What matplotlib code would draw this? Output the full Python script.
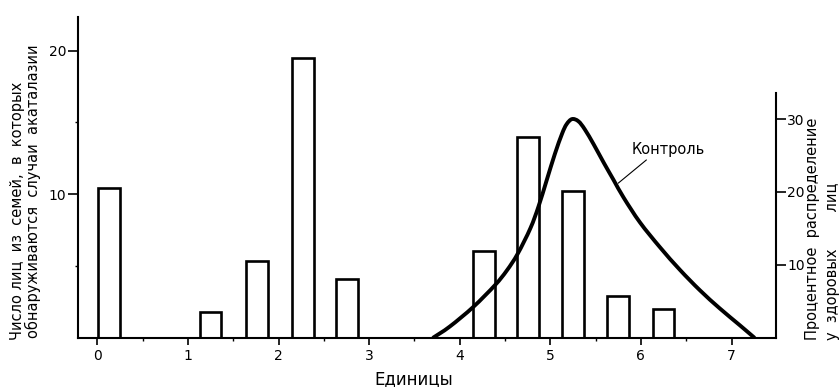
import matplotlib
matplotlib.use("Agg")
import matplotlib.pyplot as plt
from matplotlib.path import Path
from matplotlib.patches import PathPatch

plt.rcParams['font.family'] = ['DejaVu Sans']

# ---- data ----
bar_x = [0.13, 1.25, 1.76, 2.27, 2.76, 4.27, 4.75, 5.25, 5.75, 6.25]
bar_counts = [10.4, 1.75, 5.3, 19.5, 4.1, 6.0, 14.0, 10.2, 2.9, 2.0]

ctrl_x = [3.71, 3.89, 4.15, 4.39, 4.52, 4.64, 4.78, 4.87, 4.96, 5.05, 5.13,
          5.18, 5.24, 5.31, 5.38, 5.48, 5.59, 5.70, 5.81, 5.99, 6.21, 6.43,
          6.65, 6.87, 7.09, 7.25]
ctrl_pct = [0.0, 1.5, 4.2, 7.2, 9.2, 11.5, 15.0, 18.0, 21.6, 25.2, 28.0,
            29.3, 30.0, 29.7, 28.6, 26.5, 24.0, 21.6, 19.2, 15.8, 12.4, 9.3,
            6.5, 4.0, 1.7, 0.0]

x_ticks = [0, 1, 2, 3, 4, 5, 6, 7]
x_minor = [0.5, 1.5, 2.5, 3.5, 4.5, 5.5, 6.5]
left_ticks = [10, 20]
left_minor = [5, 15]
right_ticks = [10, 20, 30]


def smooth_path(xs, ys):
    """Catmull-Rom curve through the read points, as cubic Bezier segments."""
    pts = list(zip(xs, ys))
    verts = [pts[0]]
    codes = [Path.MOVETO]
    n = len(pts)
    for i in range(n - 1):
        p0 = pts[i - 1] if i > 0 else pts[i]
        p1 = pts[i]
        p2 = pts[i + 1]
        p3 = pts[i + 2] if i + 2 < n else pts[i + 1]
        c1 = (p1[0] + (p2[0] - p0[0]) / 6.0, p1[1] + (p2[1] - p0[1]) / 6.0)
        c2 = (p2[0] - (p3[0] - p1[0]) / 6.0, p2[1] - (p3[1] - p1[1]) / 6.0)
        verts += [c1, c2, p2]
        codes += [Path.CURVE4] * 3
    return Path(verts, codes)


W, H = 840, 387
fig = plt.figure(figsize=(W / 100, H / 100), dpi=100)

ax_l, ax_r, ax_b, ax_t = 78, 776, 337.5, 17
ax = fig.add_axes([ax_l / W, (H - ax_b) / H, (ax_r - ax_l) / W, (ax_b - ax_t) / H])

ax.bar(bar_x, bar_counts, width=0.24, fill=False, edgecolor='black',
       linewidth=1.9, zorder=2)

ax.set_xlim(-0.213, 7.491)
ax.set_ylim(0, 22.35)
for s in ['top', 'right']:
    ax.spines[s].set_visible(False)
for s in ['left', 'bottom']:
    ax.spines[s].set_linewidth(1.5)

ax.set_xticks(x_ticks)
ax.set_xticks(x_minor, minor=True)
ax.set_yticks(left_ticks)
ax.set_yticks(left_minor, minor=True)
ax.tick_params(axis='x', which='major', direction='out', length=5, width=1.2,
               pad=3, labelsize=10)
ax.tick_params(axis='x', which='minor', direction='out', length=2.5, width=1.0)
ax.tick_params(axis='y', which='major', direction='out', length=7, width=1.2,
               pad=1.5, labelsize=10)
ax.tick_params(axis='y', which='minor', direction='out', length=2.5, width=1.0)

ax2 = ax.twinx()
ax2.add_patch(PathPatch(smooth_path(ctrl_x, ctrl_pct), facecolor='none',
                        edgecolor='black', linewidth=2.8, capstyle='round',
                        joinstyle='round', zorder=3))
ax2.set_ylim(0, 44.02)
for s in ['top', 'left', 'bottom']:
    ax2.spines[s].set_visible(False)
ax2.spines['right'].set_linewidth(1.5)
ax2.spines['right'].set_bounds(0, 33.6)
ax2.set_yticks(right_ticks)
ax2.tick_params(axis='y', which='major', direction='out', length=7, width=1.2,
                pad=1, labelsize=10)

ax2.annotate('Контроль', xy=(5.75, 21.2), xytext=(6.30, 25.8),
             ha='center', va='center', fontsize=10.5,
             arrowprops=dict(arrowstyle='-', color='black', lw=0.8,
                             relpos=(0.25, 0.0), shrinkA=0, shrinkB=0))

fig.text(414 / W, (H - 379) / H, 'Единицы', ha='center', va='center',
         fontsize=12)

fig.text(18 / W, (H - 340) / H, 'Число лиц  из  семей,  в  которых',
         rotation=90, ha='center', va='bottom', fontsize=10.5)
fig.text(33 / W, (H - 338) / H, 'обнаруживаются  случаи  акаталазии',
         rotation=90, ha='center', va='bottom', fontsize=10.5)

fig.text(813 / W, (H - 340) / H, 'Процентное  распределение',
         rotation=90, ha='center', va='bottom', fontsize=10.5)
fig.text(832 / W, (H - 340) / H, 'у  здоровых        лиц',
         rotation=90, ha='center', va='bottom', fontsize=10.5)

fig.savefig('out.png', dpi=100)
